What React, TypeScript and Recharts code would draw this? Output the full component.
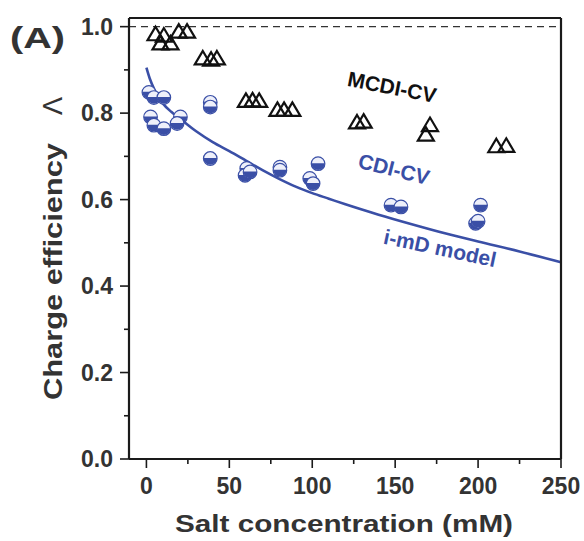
import { ComposedChart, Scatter, Line, XAxis, YAxis, ReferenceLine } from 'recharts';

// MCDI-CV measurements (open triangles)
const mcdiSalt = [5.5, 10.5, 8.5, 14.5, 19.5, 24.5, 34, 39, 42.5, 60, 64, 68, 79, 83, 88, 127, 131, 168.5, 171, 211, 217];
const mcdiEff = [0.981, 0.978, 0.96, 0.96, 0.987, 0.987, 0.925, 0.922, 0.925, 0.827, 0.828, 0.827, 0.806, 0.806, 0.806, 0.777, 0.779, 0.749, 0.771, 0.722, 0.723];

// CDI-CV measurements (half-filled circles)
const cdiSalt = [1.5, 4.5, 10.5, 2.5, 4.5, 10.5, 20.5, 18.5, 38.5, 38.5, 38.5, 60.5, 59.5, 62.5, 80.5, 80.5, 98.5, 100.5, 103.5, 147.5, 153.5, 201.5, 198.5, 200];
const cdiEff = [0.848, 0.836, 0.836, 0.791, 0.772, 0.764, 0.791, 0.776, 0.825, 0.814, 0.695, 0.672, 0.656, 0.664, 0.675, 0.668, 0.649, 0.637, 0.683, 0.587, 0.583, 0.587, 0.545, 0.55];

// i-mD model curve
const modelSalt = [0, 2, 5, 10, 15, 20, 30, 40, 50, 60, 70, 80, 90, 100, 110, 120, 140, 160, 180, 200, 225, 250];
const modelEff = [0.905, 0.88, 0.853, 0.822, 0.803, 0.788, 0.758, 0.733, 0.712, 0.69, 0.668, 0.648, 0.63, 0.615, 0.602, 0.589, 0.565, 0.543, 0.522, 0.503, 0.48, 0.455];

const xTicks = [0, 25, 50, 75, 100, 125, 150, 175, 200, 225, 250];
const yTicks = [0, 0.1, 0.2, 0.3, 0.4, 0.5, 0.6, 0.7, 0.8, 0.9, 1.0];
const xDomain = [-10.5, 250];
const yDomain = [0, 1.02];

const mcdiData = mcdiSalt.map((x, i) => ({ x, y: mcdiEff[i] }));
const cdiData = cdiSalt.map((x, i) => ({ x, y: cdiEff[i] }));
const modelData = modelSalt.map((x, i) => ({ x, y: modelEff[i] }));

const BLUE = '#3a4fa6';
const INK = '#1a1a1a';
const FONT = '"Liberation Sans", Arial, sans-serif';

function Triangle(props: any) {
  const { cx, cy } = props;
  const w = 16;
  const h = 13.5;
  const d = `M ${cx} ${cy - h * 0.6} L ${cx + w / 2} ${cy + h * 0.4} L ${cx - w / 2} ${cy + h * 0.4} Z`;
  return <path d={d} fill="none" stroke="#111" strokeWidth={2.2} strokeLinejoin="miter" />;
}

function HalfBall(props: any) {
  const { cx, cy } = props;
  const r = 6.8;
  return (
    <g>
      <circle cx={cx} cy={cy} r={r} fill="#eef0fa" stroke={BLUE} strokeWidth={1.2} />
      <path d={`M ${cx - r} ${cy - 0.5} A ${r} ${r} 0 0 0 ${cx + r} ${cy - 0.5} Z`} fill={BLUE} />
    </g>
  );
}

function XTick(props: any) {
  const { x, y, payload } = props;
  const major = payload.value % 50 === 0;
  return (
    <g>
      <line x1={x} x2={x} y1={y} y2={y + (major ? 9 : 5)} stroke={INK} strokeWidth={1.6} />
      {major && (
        <text x={x} y={y + 35} textAnchor="middle" fontFamily={FONT} fontWeight="bold" fontSize={23} fill="#333">
          {payload.value}
        </text>
      )}
    </g>
  );
}

function YTick(props: any) {
  const { x, y, payload } = props;
  const major = Math.round(payload.value * 10) % 2 === 0;
  return (
    <g>
      <line x1={x} x2={x - (major ? 9 : 5)} y1={y} y2={y} stroke={INK} strokeWidth={1.6} />
      {major && (
        <text x={x - 16} y={y} dy="0.36em" textAnchor="end" fontFamily={FONT} fontWeight="bold" fontSize={23} fill="#333">
          {payload.value.toFixed(1)}
        </text>
      )}
    </g>
  );
}

export default function App() {
  return (
    <div style={{ position: 'absolute', left: 0, top: 0, width: 584, height: 541, background: '#fff' }}>
      <ComposedChart width={584} height={541} margin={{ top: 17, right: 22, bottom: 52, left: 69 }}>
        <XAxis dataKey="x" type="number" domain={xDomain} ticks={xTicks} interval={0}
          height={30} tickSize={0} tickMargin={0} tickLine={false} tick={<XTick />}
          stroke={INK} strokeWidth={2.2} />
        {/* top and right axes draw the rest of the frame */}
        <XAxis xAxisId="top" orientation="top" dataKey="x" type="number" domain={xDomain} height={1}
          tick={false} tickLine={false} stroke={INK} strokeWidth={2.2} />
        <YAxis type="number" domain={yDomain} ticks={yTicks} interval={0}
          width={60} tickSize={0} tickMargin={0} tickLine={false} tick={<YTick />}
          stroke={INK} strokeWidth={2.2} />
        <YAxis yAxisId="right" orientation="right" type="number" domain={yDomain} width={1}
          tick={false} tickLine={false} stroke={INK} strokeWidth={2.2} />
        <ReferenceLine y={1} stroke="#333" strokeWidth={1.3} strokeDasharray="7 5" />
        <Line data={modelData} dataKey="y" type="monotone" stroke={BLUE} strokeWidth={2.6}
          dot={false} activeDot={false} isAnimationActive={false} />
        <Scatter data={cdiData} dataKey="y" shape={<HalfBall />} isAnimationActive={false} />
        <Scatter data={mcdiData} dataKey="y" shape={<Triangle />} isAnimationActive={false} />
      </ComposedChart>
      <svg width={584} height={541} style={{ position: 'absolute', left: 0, top: 0, pointerEvents: 'none' }}>
        <text x={10} y={48} fontFamily={FONT} fontWeight="bold" fontSize={29} fill="#333" textLength={55} lengthAdjust="spacingAndGlyphs">(A)</text>
        <text x={62} y={400} transform="rotate(-90 62 400)" fontFamily={FONT} fontWeight="bold" fontSize={25} fill="#333"
          textLength={257} lengthAdjust="spacingAndGlyphs">Charge efficiency</text>
        <text x={62} y={106} transform="rotate(-90 62 106)" textAnchor="middle" fontFamily={FONT} fontSize={27} fill="#333">Λ</text>
        <text x={175} y={532} fontFamily={FONT} fontWeight="bold" fontSize={24} fill="#333"
          textLength={338} lengthAdjust="spacingAndGlyphs">Salt concentration (mM)</text>
        <text x={392} y={87} transform="rotate(11 392 87)" textAnchor="middle" dominantBaseline="central"
          fontFamily={FONT} fontWeight="bold" fontSize={21} fill="#111">MCDI-CV</text>
        <text x={394} y={169} transform="rotate(14 394 169)" textAnchor="middle" dominantBaseline="central"
          fontFamily={FONT} fontWeight="bold" fontSize={21} fill={BLUE}>CDI-CV</text>
        <text x={440} y={248} transform="rotate(12 440 248)" textAnchor="middle" dominantBaseline="central"
          fontFamily={FONT} fontWeight="bold" fontSize={21} fill={BLUE}>i-mD model</text>
      </svg>
    </div>
  );
}
